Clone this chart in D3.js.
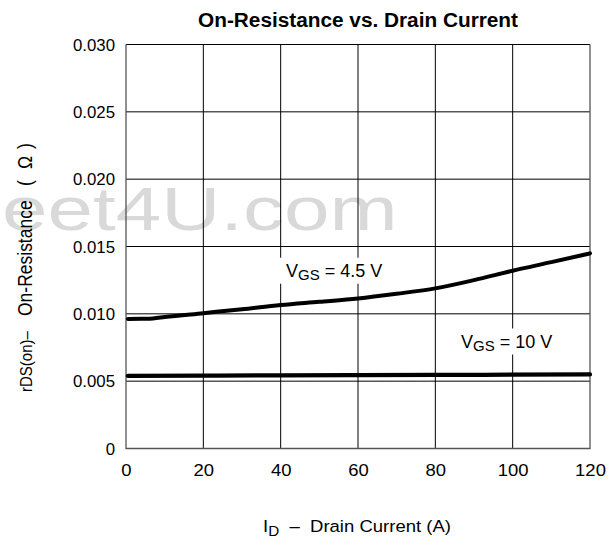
<!DOCTYPE html>
<html>
<head>
<meta charset="utf-8">
<script src="https://cdn.jsdelivr.net/npm/d3@7"></script>
<style>
  html, body { margin: 0; padding: 0; background: #fff; }
  svg { display: block; font-family: "Liberation Sans", Arial, Helvetica, sans-serif; }
  text { white-space: pre; }
</style>
</head>
<body>
<svg id="chart" width="614" height="537"></svg>
<script>
// ---- data ----
const xTicks = [0, 20, 40, 60, 80, 100, 120];
const xTickLabels = ["0", "20", "40", "60", "80", "100", "120"];
const yTicks = [0, 0.005, 0.010, 0.015, 0.020, 0.025, 0.030];
const yTickLabels = ["0", "0.005", "0.010", "0.015", "0.020", "0.025", "0.030"];

// Drain current (A) and on-resistance (ohm), VGS = 4.5 V
const id45 = [0.5, 4, 7, 10, 20, 30, 40, 50, 60, 70, 80, 90, 100, 110, 120];
const r45 = [0.00961, 0.00963, 0.00966, 0.00976, 0.01005, 0.01034, 0.01065, 0.01089, 0.01114, 0.01149, 0.01189, 0.01250, 0.01320, 0.01384, 0.01449];
// VGS = 10 V
const id10 = [0.5, 20, 40, 60, 80, 100, 120];
const r10 = [0.00539, 0.00541, 0.00543, 0.00545, 0.00546, 0.00548, 0.00550];

const seriesLabels = ["4.5 V", "10 V"];
const titleText = "On-Resistance vs. Drain Current";
const watermark = "eet4U.com";

// ---- layout ----
const svg = d3.select("#chart");
const L = 126, R = 590, T = 44.5, B = 448.5;
const x = d3.scaleLinear().domain([0, 120]).range([L, R]);
const y = d3.scaleLinear().domain([0, 0.030]).range([B, T]);

// watermark (behind grid)
svg.append("text")
  .attr("transform", "translate(2,230) scale(1.32,1)")
  .attr("font-size", 62)
  .attr("fill", "#d9d9d9")
  .text(watermark);

// gridlines
const grid = svg.append("g");
grid.selectAll("line.v").data(xTicks.slice(1, -1)).join("line")
  .attr("x1", d => x(d)).attr("x2", d => x(d))
  .attr("y1", T).attr("y2", B)
  .attr("stroke", "#000").attr("stroke-width", 1);
grid.selectAll("line.h").data(yTicks.slice(1)).join("line")
  .attr("x1", L).attr("x2", R)
  .attr("y1", d => y(d)).attr("y2", d => y(d))
  .attr("stroke", "#000").attr("stroke-width", 1);
// frame: left, right, bottom
svg.append("path")
  .attr("d", `M${L},${T}V${B}H${R}V${T}`)
  .attr("fill", "none").attr("stroke", "#555").attr("stroke-width", 1.3);

// axes labels via d3 axes (no lines)
const yAxis = d3.axisLeft(y).tickValues(yTicks).tickFormat((d, i) => yTickLabels[i]).tickSize(0).tickPadding(0);
const gy = svg.append("g").attr("transform", `translate(115,0)`).call(yAxis);
gy.select(".domain").remove();
gy.selectAll("text")
  .attr("font-family", null)
  .attr("font-size", 16).attr("fill", "#000")
  .attr("dy", null).attr("x", null)
  .attr("transform", "translate(0,5.5) scale(1.05,1)");

const xAxis = d3.axisBottom(x).tickValues(xTicks).tickFormat((d, i) => xTickLabels[i]).tickSize(0).tickPadding(0);
const gx = svg.append("g").attr("transform", `translate(0,476)`).call(xAxis);
gx.select(".domain").remove();
gx.selectAll("text")
  .attr("font-family", null)
  .attr("font-size", 16.5).attr("fill", "#000")
  .attr("dy", null).attr("y", null)
  .attr("transform", "scale(1.12,1)");

// title
svg.append("text")
  .attr("transform", "translate(358,27) scale(1.04,1)")
  .attr("text-anchor", "middle")
  .attr("font-size", 20).attr("font-weight", "bold")
  .text(titleText);

// x-axis title
const xt = svg.append("text")
  .attr("transform", "translate(263,531.5) scale(1.09,1)")
  .attr("font-size", 17);
xt.append("tspan").text("I");
xt.append("tspan").attr("font-size", 14).attr("dy", 4).text("D");
xt.append("tspan").attr("dy", -4).text("  \u2013  Drain Current (A)");

// y-axis title pieces (rotated)
function yPiece(yStart, size, str) {
  svg.append("text")
    .attr("transform", `translate(31.5,${yStart}) scale(1.15,1) rotate(-90)`)
    .attr("font-size", size)
    .text(str);
}
yPiece(392, 15, "rDS(on)\u2013");
yPiece(316, 17.5, "On-Resistance");
yPiece(186, 17.5, "(");
yPiece(169, 17.5, "\u03A9");
yPiece(149, 17.5, ")");

// series labels with white boxes
function seriesLabel(xs, yb, val) {
  const g = svg.append("g");
  const rect = g.append("rect").attr("fill", "#fff");
  const t = g.append("text").attr("x", xs).attr("y", yb).attr("font-size", 18);
  t.append("tspan").text("V");
  t.append("tspan").attr("font-size", 15).attr("dy", 3).text("GS");
  t.append("tspan").attr("dy", -3).text(" = " + val);
  const bb = t.node().getBBox();
  rect.attr("x", bb.x - 9).attr("y", bb.y - 3).attr("width", bb.width + 16).attr("height", bb.height + 4);
}
seriesLabel(286, 276.7, seriesLabels[0]);
seriesLabel(461, 347.5, seriesLabels[1]);

// curves
const line = d3.line().curve(d3.curveMonotoneX).x(d => x(d[0])).y(d => y(d[1]));
svg.append("path")
  .attr("d", line(id45.map((d, i) => [d, r45[i]])))
  .attr("fill", "none").attr("stroke", "#000").attr("stroke-width", 4).attr("stroke-linecap", "round");
svg.append("path")
  .attr("d", line(id10.map((d, i) => [d, r10[i]])))
  .attr("fill", "none").attr("stroke", "#000").attr("stroke-width", 4.3).attr("stroke-linecap", "round");
</script>
</body>
</html>
